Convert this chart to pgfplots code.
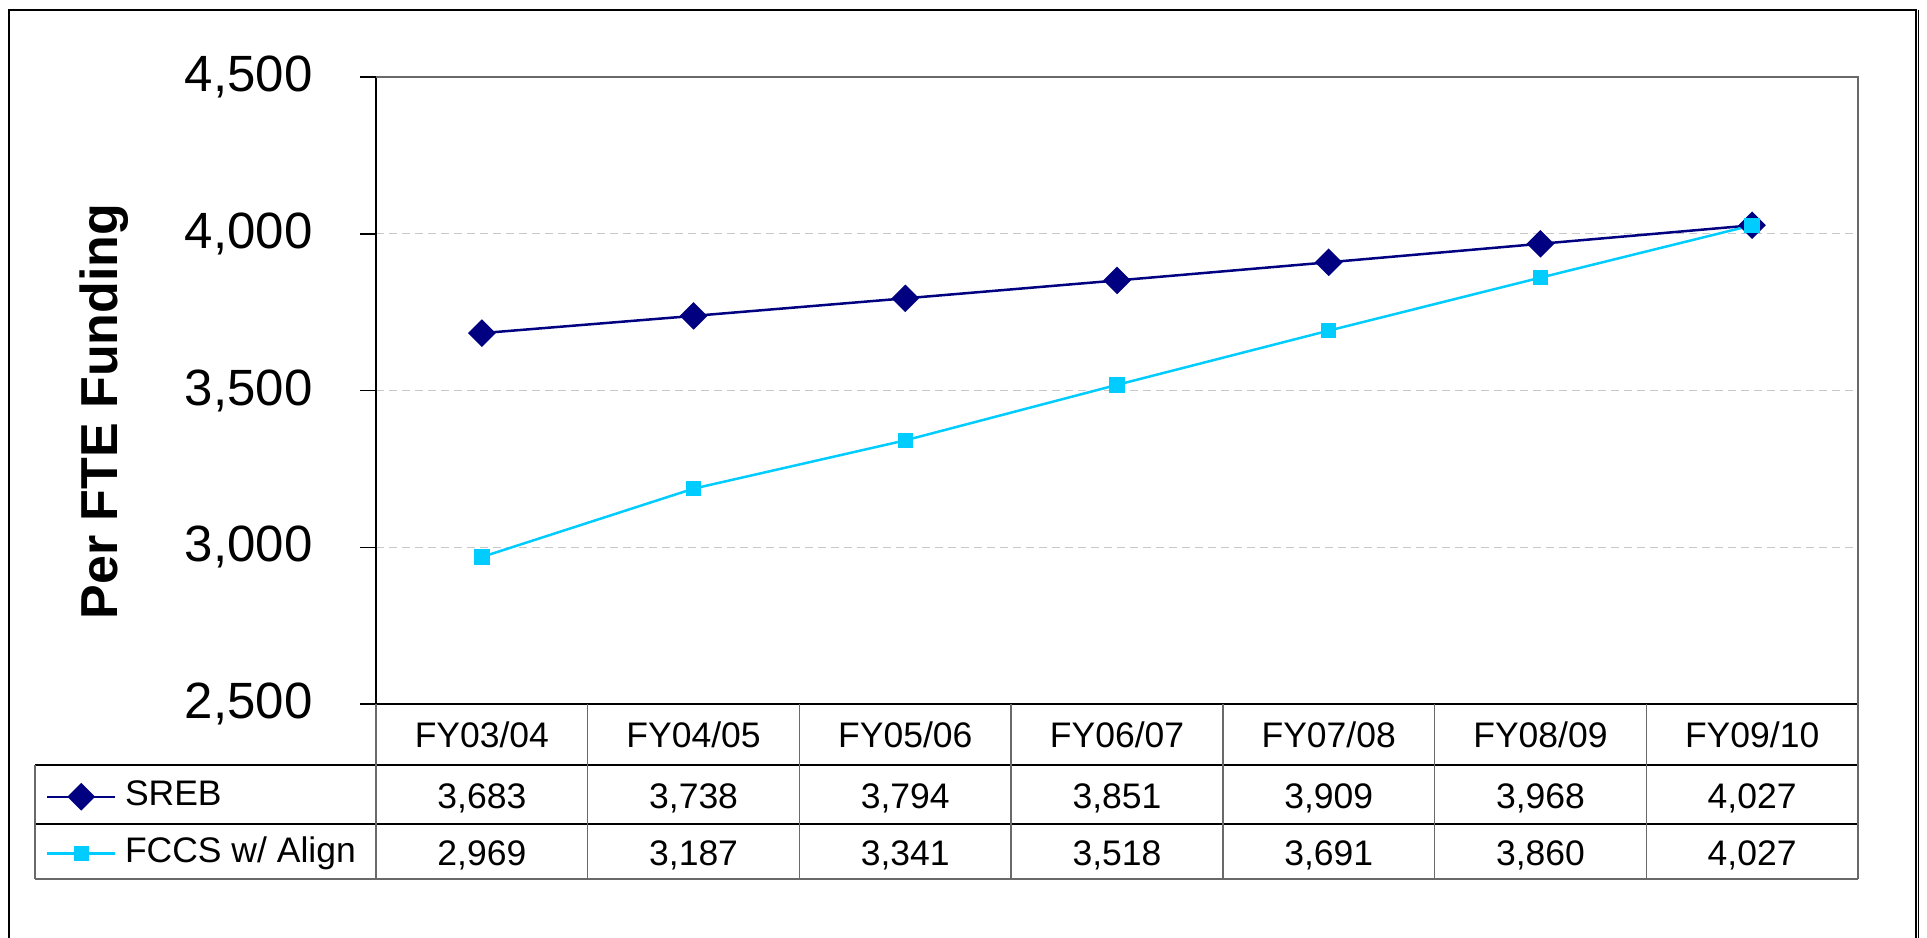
\documentclass[border=0pt]{standalone}
\usepackage{fontspec}
\setmainfont{Liberation Sans}
\usepackage{pgfplots}
\usepackage{pgfplotstable}
\pgfplotsset{compat=1.18}
\definecolor{sreb}{RGB}{0,0,128}
\definecolor{fccs}{RGB}{0,204,255}
\definecolor{gridgray}{RGB}{200,200,200}
\definecolor{boxgray}{RGB}{105,105,105}

\pgfplotstableread{
x sreb fccs
0 3683 2969
1 3738 3187
2 3794 3341
3 3851 3518
4 3909 3691
5 3968 3860
6 4027 4027
}\datatable

\newcommand\tickfont{\fontsize{20.4}{24}\selectfont}
\newcommand\tabfont{\fontsize{14.2}{17}\selectfont}

\begin{document}
\begin{tikzpicture}
\pgfkeys{/pgf/number format/.cd,1000 sep={,},assume math mode=true}
\begin{axis}[
  at={(150.4pt,-281.6pt)}, anchor=south west,
  scale only axis, width=592.8pt, height=250.8pt,
  xmin=-0.5, xmax=6.5, ymin=2500, ymax=4500,
  axis lines*=left,
  xtick=\empty,
  ytick={2500,3000,3500,4000,4500},
  scaled y ticks=false,
  yticklabel style={font=\tickfont, anchor=east, inner sep=0pt,
    /pgf/number format/.cd, 1000 sep={,}, assume math mode=true},
  tick align=outside,
  major tick length=6.4pt,
  yticklabel shift=18.8pt,
  tick style={black, line width=0.6pt},
  y axis line style={black, line width=0.7pt},
  x axis line style={black, line width=0.8pt},
  ymajorgrids,
  grid style={gridgray, line width=0.4pt, dash pattern=on 3.2pt off 2pt},
  clip=false,
  legend cell align=left,
  legend style={at={(axis description cs:-0.22267,-0.1930)}, anchor=west,
    draw=none, fill=none, inner sep=0pt, outer sep=0pt, font=\tabfont,
    row sep=9.6pt, column sep=3.4pt,
    nodes={inner sep=0pt, text height=10pt, text depth=3pt}},
  legend image code/.code={\draw[mark repeat=2,mark phase=2,#1] plot coordinates {(0pt,0pt)(13.6pt,0pt)(27.2pt,0pt)};},
]
\addplot[sreb, line width=1pt, mark=square*, mark size=3.4pt,
  mark options={rotate=45, solid, fill=sreb}] table[x=x,y=sreb]{\datatable};
\addlegendentry{SREB}
\addplot[fccs, line width=1pt, mark=square*, mark size=2.6pt,
  mark options={solid, fill=fccs}] table[x=x,y=fccs]{\datatable};
\addlegendentry{FCCS w/ Align}
\end{axis}

\begin{scope}[x=0.4pt, y=-0.4pt]
  % plot box (top and right)
  \draw[boxgray, line width=0.6pt] (376,77) -- (1858,77) -- (1858,704);
  % data table grid
  \draw[black, line width=0.6pt] (35,765) -- (1858,765) (35,824) -- (1858,824);
  \draw[boxgray, line width=0.6pt] (35,879) -- (1858,879) (35,765) -- (35,879);
  \foreach \k in {0,...,7} {
    \draw[boxgray, line width=0.6pt] ({376+211.714*\k},704) -- ({376+211.714*\k},879);
  }
  % header labels
  \foreach \lab [count=\i from 0] in {FY03/04,FY04/05,FY05/06,FY06/07,FY07/08,FY08/09,FY09/10} {
    \node[anchor=base, inner sep=0pt, font=\tabfont] at ({376+211.714*(\i+0.5)},747) {\lab};
  }
  % values
  \foreach \i in {0,...,6} {
    \pgfplotstablegetelem{\i}{sreb}\of\datatable
    \node[anchor=base, inner sep=0pt, font=\tabfont] at ({376+211.714*(\i+0.5)},808) {\pgfmathprintnumber{\pgfplotsretval}};
    \pgfplotstablegetelem{\i}{fccs}\of\datatable
    \node[anchor=base, inner sep=0pt, font=\tabfont] at ({376+211.714*(\i+0.5)},865) {\pgfmathprintnumber{\pgfplotsretval}};
  }
  % y label
  \node[rotate=90, anchor=base, inner sep=0pt, font=\fontsize{20.8}{25}\selectfont\bfseries] at (117,411.5) {Per FTE Funding};
  % outer frame
  \draw[black, line width=1.1pt] (9,1100) -- (9,10) -- (1916,10) -- (1916,1100);
  \draw[black, line width=0.5pt] (1918.8,10) -- (1918.8,1100);
  \pgfresetboundingbox
  \useasboundingbox (0,0) rectangle (1927,938);
\end{scope}
\end{tikzpicture}
\end{document}
